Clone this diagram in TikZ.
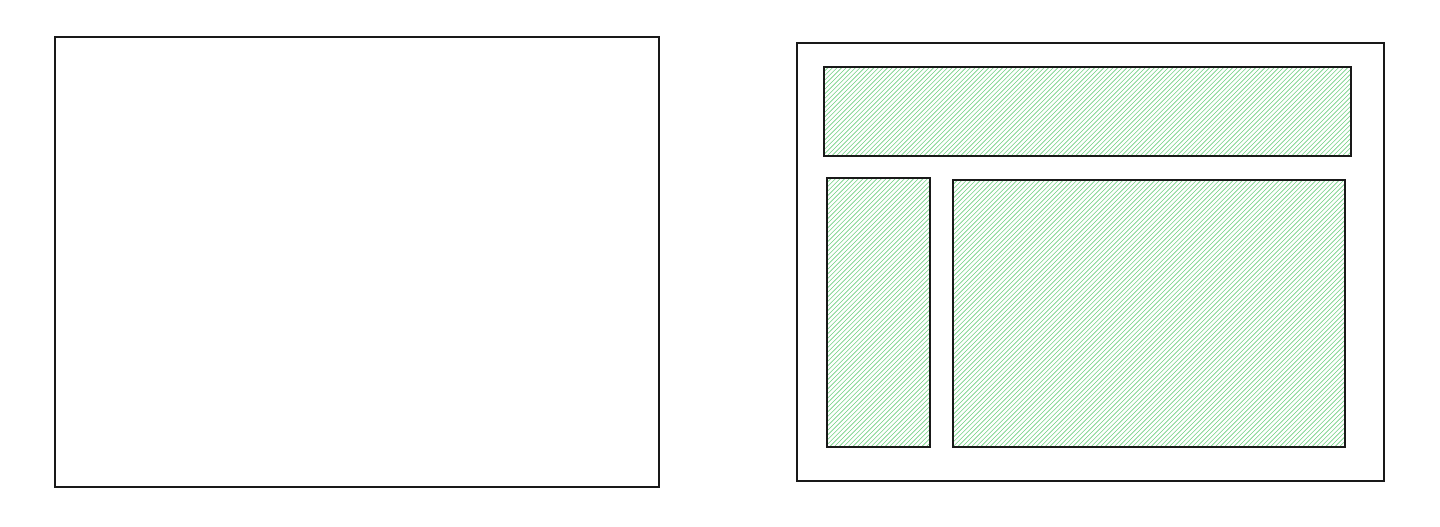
\documentclass[tikz,border=0pt]{standalone}
\definecolor{hatch}{HTML}{40C057}
\tikzset{
  frame/.style={draw=black!90, line width=1.2pt},
  hatchline/.style={draw=hatch, line width=0.6pt, opacity=0.75},
}
\newcommand{\hatchbox}[4]{%
  \begin{scope}
    \clip (#1,#2) rectangle (#3,#4);
    \pgfmathsetmacro{\hh}{#4-#2}
    \pgfmathsetmacro{\xs}{#1-\hh}
    \pgfmathsetmacro{\xn}{\xs+4.6}
    \foreach \x in {\xs,\xn,...,#3} {
      \draw[hatchline] (\x,#4) -- ++(\hh,-\hh);
    }
  \end{scope}
  \draw[frame] (#1,#2) rectangle (#3,#4);
}
\begin{document}
\begin{tikzpicture}[x=1pt,y=-1pt]
  \useasboundingbox (0,0) rectangle (1440,527);
  \fill[white] (0,0) rectangle (1440,527);
  % left empty frame
  \draw[frame] (55,37) rectangle (659,487);
  % right frame
  \draw[frame] (797,43) rectangle (1384,481);
  \hatchbox{824}{67}{1351}{156}
  \hatchbox{827}{178}{930}{447}
  \hatchbox{953}{180}{1345}{447}
\end{tikzpicture}
\end{document}
